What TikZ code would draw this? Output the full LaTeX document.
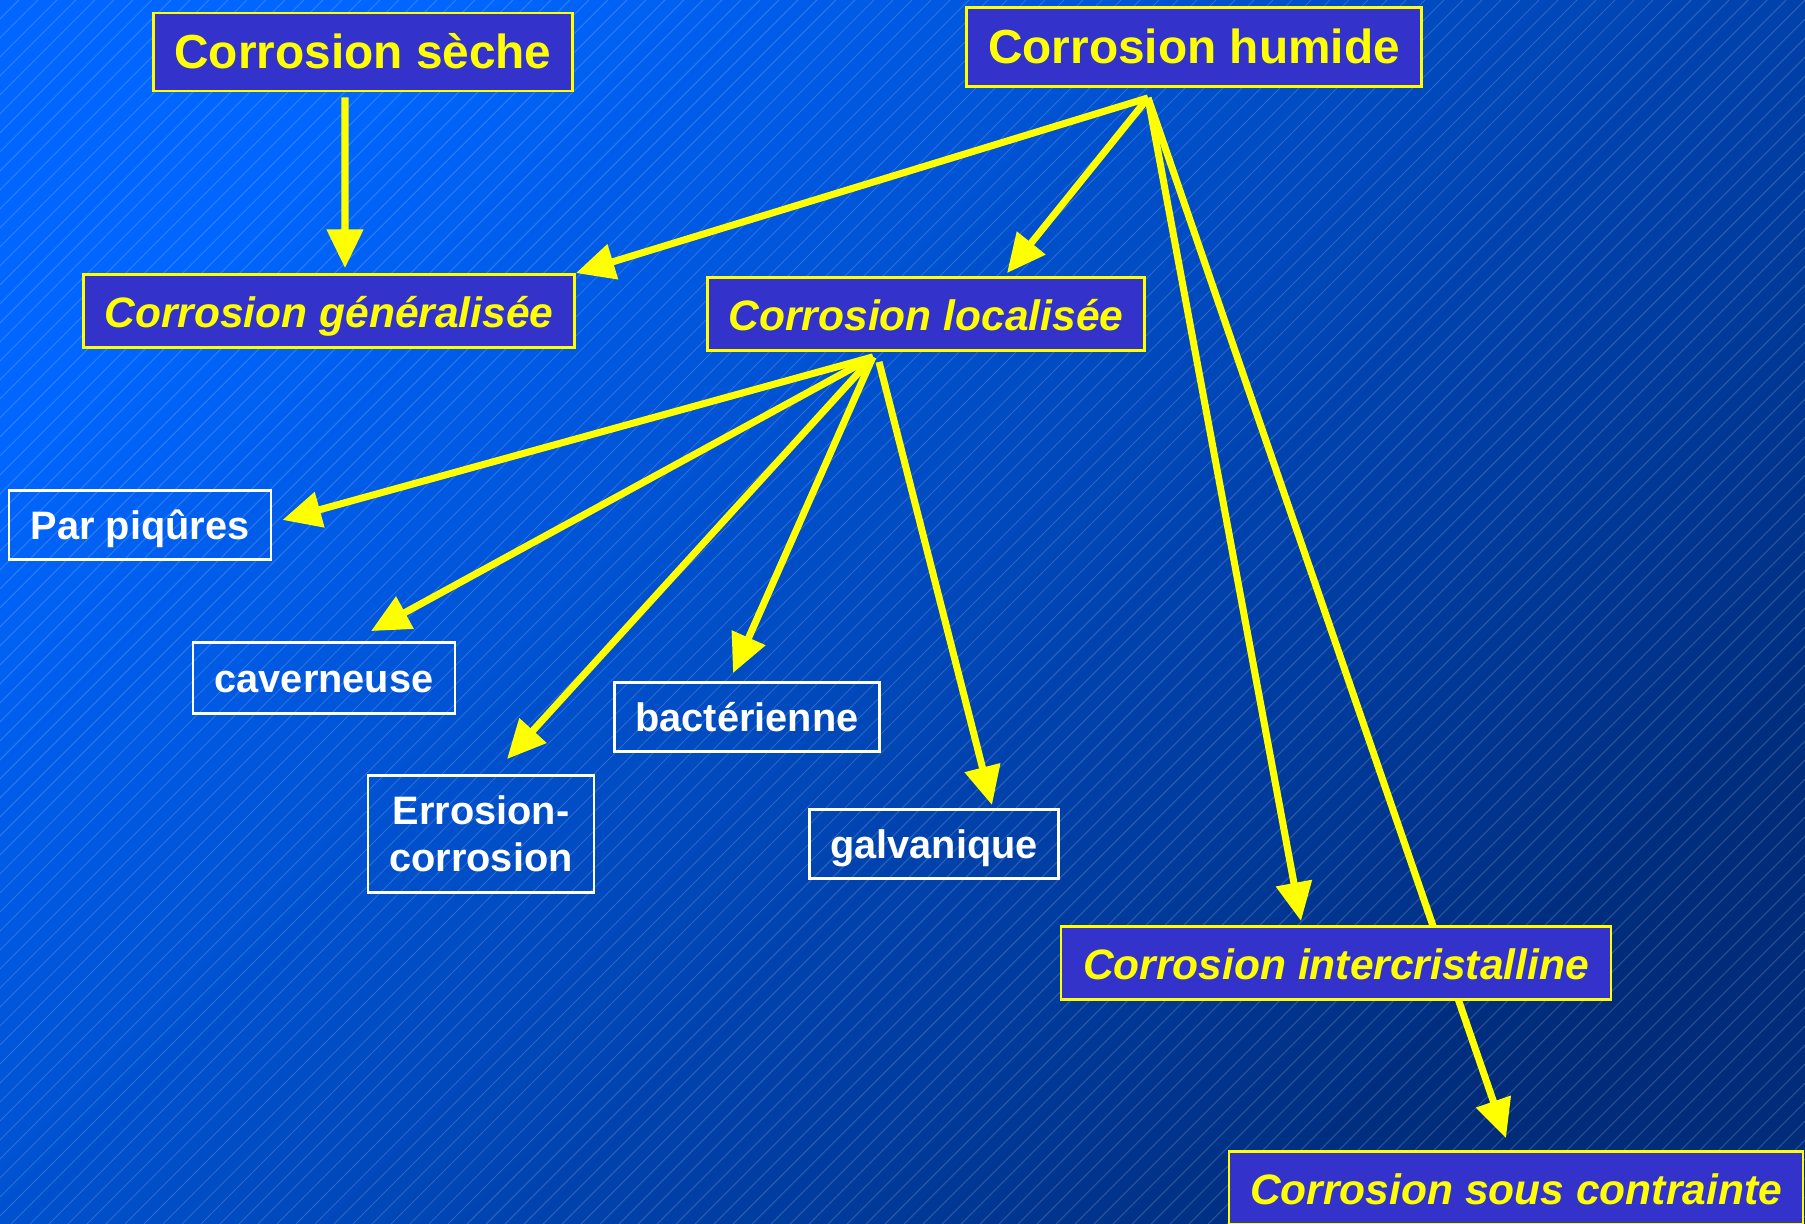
\documentclass[tikz,border=0pt]{standalone}
\usepackage{fontspec}
\setmainfont{Liberation Sans}
\usetikzlibrary{arrows.meta}
\definecolor{bg-light}{HTML}{0066FF}
\definecolor{bg-dark}{HTML}{002C7A}
\definecolor{box-blue}{HTML}{3333CC}
\definecolor{link-yellow}{HTML}{FFFF00}

\begin{document}
\begin{tikzpicture}[x=0.1mm, y=-0.1mm,
    mainbox/.style={draw=link-yellow, fill=box-blue, text=link-yellow, line width=0.8pt,
      minimum height=7.8mm, inner ysep=0pt, text height=1.15em, text depth=0.2em,
      font=\bfseries\fontsize{13.6}{16}\selectfont},
    kindbox/.style={mainbox, minimum height=7.3mm, font=\bfseries\itshape\fontsize{12.1}{14}\selectfont},
    subframe/.style={draw=white, text=white, line width=0.8pt, minimum height=6.9mm,
      align=center, font=\bfseries\fontsize{11.3}{13.4}\selectfont},
    subbox/.style={subframe, text height=1em, text depth=0.2em},
    link/.style={draw=link-yellow, line width=2pt, -{Triangle[length=11pt, width=10pt]}}]
  \useasboundingbox (0,0) rectangle (1805,1224);
  \shade[top color=bg-light, bottom color=bg-dark, shading angle=45] (0,0) rectangle (1805,1224);
  \begin{scope}
    \clip (0,0) rectangle (1805,1224);
    \foreach \i in {-1224,-1205,...,1805}
      \draw[white, opacity=0.17, line width=0.3pt] (\i,1224) -- ++(1224,-1224);
  \end{scope}

  \node[mainbox, minimum width=41.9mm] (seche) at (363,52) {Corrosion sèche};
  \node[mainbox, minimum width=45.5mm, minimum height=7.9mm] (humide) at (1194,47) {Corrosion humide};
  \node[kindbox, minimum width=49.1mm] (gen) at (329,311) {Corrosion généralisée};
  \node[kindbox, minimum width=43.7mm] (loc) at (926,314) {Corrosion localisée};
  \node[subbox, minimum width=26.2mm] (piq) at (140,525) {Par piqûres};
  \node[subbox, minimum width=26.2mm, minimum height=7.1mm] (cav) at (324,678) {caverneuse};
  \node[subframe, minimum width=22.6mm, minimum height=11.7mm] (err) at (481,834) {Errosion-\\corrosion};
  \node[subbox, minimum width=26.5mm] (bac) at (747,717) {bactérienne};
  \node[subbox, minimum width=24.9mm] (gal) at (934,844) {galvanique};
  \node[kindbox, minimum width=57.4mm] (contr) at (1516,1188) {Corrosion sous contrainte};

  \coordinate (hum-hub) at ([xshift=-4.6mm, yshift=-1mm]humide.south);
  \coordinate (loc-hub) at ([xshift=-5.3mm, yshift=-0.5mm]loc.south);
  \draw[link] (hum-hub) -- ([xshift=-1mm, yshift=1.2mm]contr.north);
  \node[kindbox, minimum width=55mm] (inter) at (1336,963) {Corrosion intercristalline};

  \draw[link] ([xshift=-1.8mm, yshift=-0.5mm]seche.south) -- ([xshift=1.6mm, yshift=0.5mm]gen.north);
  \draw[link] (hum-hub) -- (gen.north east);
  \draw[link] (hum-hub) -- ([xshift=8.1mm, yshift=0.3mm]loc.north);
  \draw[link] (hum-hub) -- ([xshift=-3.5mm, yshift=0.4mm]inter.north);
  \draw[link] (loc-hub) -- ([xshift=1mm, yshift=0.5mm]piq.east);
  \draw[link] (loc-hub) -- ([xshift=4.7mm, yshift=1mm]cav.north);
  \draw[link] (loc-hub) -- ([xshift=2.6mm, yshift=1.5mm]err.north);
  \draw[link] (loc-hub) -- ([xshift=-1.4mm, yshift=0.8mm]bac.north);
  \draw[link] ([xshift=0.6mm, yshift=-0.5mm]loc-hub) -- ([xshift=5.8mm, yshift=0.3mm]gal.north);
\end{tikzpicture}
\end{document}
